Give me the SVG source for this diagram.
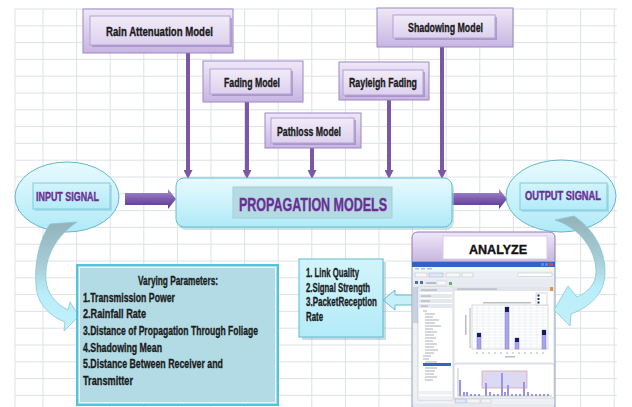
<svg xmlns="http://www.w3.org/2000/svg" width="632" height="407" viewBox="0 0 632 407">
<style>
.t{font-family:"Liberation Sans",Arial,sans-serif;font-weight:bold;}
.lbl{font-size:13px;fill:#1a1a1a;text-anchor:middle;stroke:#1a1a1a;stroke-width:0.35;}
.pur{fill:#6b2f93;text-anchor:middle;stroke:#6b2f93;stroke-width:0.4;}
.vp{font-size:12px;fill:#1a1a1a;stroke:#1a1a1a;stroke-width:0.3;}
.outer{fill:url(#gLav);stroke:#9b87c2;stroke-width:1;}
.inner{fill:url(#gLavIn);stroke:#b3a2d3;stroke-width:1;}
.shad{fill:#8d79b6;opacity:0.55;}
.conn{stroke:#7b57a8;stroke-width:4;fill:none;}
.grid{stroke:#dde2e8;stroke-width:1;fill:none;}
.g{fill:#b9bec6;}
</style>
<defs>
<linearGradient id="gLav" x1="0" y1="0" x2="0" y2="1"><stop offset="0" stop-color="#eee8f7"/><stop offset="1" stop-color="#c8b5e2"/></linearGradient>
<linearGradient id="gLavIn" x1="0" y1="0" x2="0" y2="1"><stop offset="0" stop-color="#f1ecf8"/><stop offset="1" stop-color="#ddd1ee"/></linearGradient>
<linearGradient id="gCy" x1="0" y1="0" x2="0" y2="1"><stop offset="0" stop-color="#e8fafe"/><stop offset="1" stop-color="#b0eaf8"/></linearGradient>
<linearGradient id="gCyL" x1="0" y1="0" x2="0" y2="1"><stop offset="0" stop-color="#d2f4fb"/><stop offset="1" stop-color="#b3ebf8"/></linearGradient>
<linearGradient id="gArr" x1="0" y1="0" x2="0" y2="1"><stop offset="0" stop-color="#a990d3"/><stop offset="0.5" stop-color="#7d5cb0"/><stop offset="1" stop-color="#573688"/></linearGradient>
<linearGradient id="gCurvL" gradientUnits="userSpaceOnUse" x1="0" y1="222" x2="0" y2="332"><stop offset="0" stop-color="#93b3bb"/><stop offset="0.4" stop-color="#a8cdd6"/><stop offset="0.65" stop-color="#b9eef9"/><stop offset="1" stop-color="#c2f1fb"/></linearGradient>
<linearGradient id="gCurvR" gradientUnits="userSpaceOnUse" x1="0" y1="216" x2="0" y2="326"><stop offset="0" stop-color="#93b3bb"/><stop offset="0.4" stop-color="#a8cdd6"/><stop offset="0.65" stop-color="#b9eef9"/><stop offset="1" stop-color="#c2f1fb"/></linearGradient>
<marker id="ah" viewBox="0 0 10 10" refX="0" refY="5" markerWidth="9" markerHeight="9" markerUnits="userSpaceOnUse" orient="auto"><path d="M0,0 L10,5 L0,10 z" fill="#7b57a8"/></marker>
</defs>

<rect width="632" height="407" fill="#ffffff"/>
<path class="grid" d="M15,9V407M43,9V407M76.6,9V407M110.2,9V407M143.8,9V407M177.4,9V407M211,9V407M244.6,9V407M278.2,9V407M311.8,9V407M345.4,9V407M379,9V407M412.6,9V407M446.2,9V407M479.8,9V407M513.4,9V407M547,9V407M580.6,9V407M614.2,9V407M15,9H617M15,25.8H617M15,42.6H617M15,59.4H617M15,76.2H617M15,93H617M15,109.8H617M15,126.6H617M15,143.4H617M15,160.2H617M15,177H617M15,193.8H617M15,210.6H617M15,227.4H617M15,244.2H617M15,261H617M15,277.8H617M15,294.6H617M15,311.4H617M15,328.2H617M15,345H617M15,361.8H617M15,378.6H617M15,395.4H617"/>

<g id="connectors">
<line class="conn" x1="188" y1="53" x2="188" y2="170" marker-end="url(#ah)"/>
<line class="conn" x1="247" y1="102" x2="247" y2="170" marker-end="url(#ah)"/>
<line class="conn" x1="312" y1="148" x2="312" y2="170" marker-end="url(#ah)"/>
<line class="conn" x1="389" y1="100" x2="389" y2="170" marker-end="url(#ah)"/>
<line class="conn" x1="442" y1="47" x2="442" y2="170" marker-end="url(#ah)"/>
<path d="M125,193 L168,193 L168,189 L176,199 L168,209 L168,205 L125,205 Z" fill="url(#gArr)"/>
<path d="M452,193 L499,193 L499,189 L507,199 L499,209 L499,205 L452,205 Z" fill="url(#gArr)"/>
<path d="M413,295 L395,295 L395,290 L383,300 L395,310 L395,305 L413,305 Z" fill="#c6f1fa" stroke="#6ab9cc" stroke-width="1"/>
</g>

<g id="rain">
<rect class="outer" x="83" y="9" width="150" height="44"/>
<rect class="shad" x="92" y="18" width="140" height="29"/>
<rect class="inner" x="90" y="16" width="140" height="29"/>
<text class="t lbl" x="159.5" y="36" textLength="107" lengthAdjust="spacingAndGlyphs">Rain  Attenuation Model</text>
</g>
<g id="fading">
<rect class="outer" x="203" y="61" width="100" height="41"/>
<rect class="shad" x="212" y="71" width="81" height="25"/>
<rect class="inner" x="210" y="69" width="81" height="25"/>
<text class="t lbl" x="252" y="87" textLength="56" lengthAdjust="spacingAndGlyphs">Fading Model</text>
</g>
<g id="pathloss">
<rect class="outer" x="265" y="113" width="96" height="35"/>
<rect class="shad" x="273" y="120" width="83" height="25"/>
<rect class="inner" x="271" y="118" width="83" height="25"/>
<text class="t lbl" x="309" y="136" textLength="64" lengthAdjust="spacingAndGlyphs">Pathloss Model</text>
</g>
<g id="rayleigh">
<rect class="outer" x="339" y="62" width="90" height="38"/>
<rect class="shad" x="345" y="72" width="80" height="25"/>
<rect class="inner" x="343" y="70" width="80" height="25"/>
<text class="t lbl" x="383" y="87" textLength="68" lengthAdjust="spacingAndGlyphs">Rayleigh Fading</text>
</g>
<g id="shadowing">
<rect class="outer" x="377" y="8" width="136" height="39"/>
<rect class="shad" x="395" y="17" width="102" height="23"/>
<rect class="inner" x="393" y="15" width="102" height="23"/>
<text class="t lbl" x="445.5" y="32" textLength="75" lengthAdjust="spacingAndGlyphs">Shadowing Model</text>
</g>

<g id="propagation">
<rect x="178" y="181" width="276" height="49" rx="8" fill="#9fc7d2" opacity="0.5"/>
<rect x="176" y="178" width="276" height="49" rx="8" fill="url(#gCy)" stroke="#62bfd4" stroke-width="1"/>
<rect x="233" y="187" width="159" height="31" fill="#b4dbe3" stroke="#a3cfd9" stroke-width="1"/>
<text class="t pur" x="313" y="211" font-size="19" textLength="148" lengthAdjust="spacingAndGlyphs">PROPAGATION  MODELS</text>
</g>

<g id="input">
<ellipse cx="67" cy="197" rx="52" ry="35" fill="url(#gCy)" stroke="#63b8cc" stroke-width="1"/>
<rect x="35" y="185" width="77" height="26" fill="#8fc6d3" opacity="0.5"/>
<rect x="33" y="183" width="77" height="26" fill="url(#gCyL)" stroke="#7ccbdc" stroke-width="1"/>
<text class="t pur" x="67.5" y="201" font-size="12.5" textLength="63" lengthAdjust="spacingAndGlyphs">INPUT SIGNAL</text>
<path d="M77,222 C56,236 44,258 46,280 C47,294 56,304 68,310 L70,302 L79,316 L64,331 L65,322 C48,315 37,303 36,285 C34,262 40,238 50,224 Z" fill="url(#gCurvL)" stroke="#86c6d5" stroke-width="0.8"/>
</g>

<g id="output">
<ellipse cx="561" cy="196" rx="55" ry="36" fill="url(#gCy)" stroke="#63b8cc" stroke-width="1"/>
<rect x="522" y="185" width="87" height="27" fill="#8fc6d3" opacity="0.5"/>
<rect x="520" y="183" width="87" height="27" fill="url(#gCyL)" stroke="#7ccbdc" stroke-width="1"/>
<text class="t pur" x="563" y="200" font-size="12.5" textLength="76" lengthAdjust="spacingAndGlyphs">OUTPUT SIGNAL</text>
</g>

<g id="varying">
<rect x="77" y="265" width="201" height="140" fill="#b2dbe5" stroke="#55c4d7" stroke-width="2"/>
<rect x="79.5" y="267.5" width="196" height="135" fill="none" stroke="#e3f6fa" stroke-width="1"/>
<text class="t vp" x="178" y="285" text-anchor="middle" textLength="80" lengthAdjust="spacingAndGlyphs">Varying Parameters:</text>
<text class="t vp" x="83" y="302" textLength="92" lengthAdjust="spacingAndGlyphs">1.Transmission Power</text>
<text class="t vp" x="83" y="318" textLength="63" lengthAdjust="spacingAndGlyphs">2.Rainfall Rate</text>
<text class="t vp" x="83" y="335" textLength="175" lengthAdjust="spacingAndGlyphs">3.Distance of Propagation  Through  Foliage</text>
<text class="t vp" x="83" y="352" textLength="79" lengthAdjust="spacingAndGlyphs">4.Shadowing Mean</text>
<text class="t vp" x="83" y="368" textLength="140" lengthAdjust="spacingAndGlyphs">5.Distance Between  Receiver and</text>
<text class="t vp" x="83" y="385" textLength="50" lengthAdjust="spacingAndGlyphs">Transmitter</text>
</g>

<g id="results">
<rect x="302" y="262" width="84" height="78" fill="#8fb8c4" opacity="0.5"/>
<rect x="299" y="259" width="84" height="78" fill="url(#gCyL)" stroke="#63b9cd" stroke-width="1"/>
<text class="t vp" x="306" y="277" textLength="53" lengthAdjust="spacingAndGlyphs">1. Link Quality</text>
<text class="t vp" x="306" y="292" textLength="64" lengthAdjust="spacingAndGlyphs">2.Signal Strength</text>
<text class="t vp" x="306" y="306" textLength="71" lengthAdjust="spacingAndGlyphs">3.PacketReception</text>
<text class="t vp" x="306" y="321" textLength="17" lengthAdjust="spacingAndGlyphs">Rate</text>
</g>

<g id="analyze">
<path d="M412,262 V238 Q412,232 418,232 H549 Q555,232 555,238 V262 Z" fill="url(#gLav)" stroke="#8e78b8" stroke-width="1"/>
<rect x="443" y="236" width="104" height="23" fill="#ffffff" stroke="#d6cce6" stroke-width="1"/>
<text class="t" x="498" y="254" font-size="13" fill="#111" stroke="#111" stroke-width="0.35" text-anchor="middle" textLength="58" lengthAdjust="spacingAndGlyphs">ANALYZE</text>
<rect x="412" y="262" width="143" height="145" fill="#eef0f3" stroke="#8ea2ba" stroke-width="1"/>
<rect x="412" y="262" width="143" height="5" fill="#2f63c8"/>
<rect x="541" y="263" width="3" height="3" fill="#5a86dc"/><rect x="545" y="263" width="3" height="3" fill="#5a86dc"/><rect x="549" y="263" width="4" height="3" fill="#d9483b"/>
<rect x="413" y="267" width="141" height="4" fill="#f6f6f6"/>
<rect x="415" y="268" width="4" height="1.5" class="g"/><rect x="421" y="268" width="4" height="1.5" class="g"/><rect x="427" y="268" width="5" height="1.5" class="g"/>
<rect x="413" y="271" width="141" height="8" fill="#eceff3"/>
<rect x="415" y="273" width="12" height="4" fill="#f8f8f8" stroke="#b8bec8" stroke-width="0.5"/><rect x="429" y="273" width="14" height="4" fill="#dfe8f6" stroke="#9cb0cc" stroke-width="0.5"/><rect x="446" y="273" width="14" height="4" fill="#f8f8f8" stroke="#b8bec8" stroke-width="0.5"/><rect x="462" y="273" width="11" height="4" fill="#f8f8f8" stroke="#b8bec8" stroke-width="0.5"/>
<rect x="518" y="273" width="34" height="3.5" fill="#ffffff" stroke="#b8bec8" stroke-width="0.5"/>
<rect x="413" y="279" width="141" height="8" fill="#e8ebef"/>
<rect x="415" y="281" width="3" height="3" fill="#4a6fa8"/><rect x="420" y="281" width="3" height="3" fill="#4a6fa8"/><rect x="426" y="282" width="10" height="2" class="g"/><rect x="437" y="281" width="9" height="4" fill="#fbfbfb" stroke="#c4c8cf" stroke-width="0.5"/><rect x="449" y="282" width="3" height="3" fill="#6a7"/>
<rect x="413" y="287" width="5" height="36" fill="#c8d2e2"/>
<rect x="418" y="287" width="35" height="113" fill="#ffffff" stroke="#aab2c0" stroke-width="0.5"/>
<rect x="419" y="288" width="33" height="4" fill="#e4e8ee"/><rect x="421" y="289.3" width="16" height="1.5" class="g"/>
<rect x="419" y="294" width="33" height="4" fill="#e4e8ee"/><rect x="421" y="295.3" width="10" height="1.5" class="g"/>
<rect x="419" y="299" width="33" height="4" fill="#e4e8ee"/><rect x="421" y="300.3" width="9" height="1.5" class="g"/>
<rect x="419" y="304" width="33" height="4" fill="#e4e8ee"/><rect x="421" y="305.3" width="7" height="1.5" class="g"/>
<path d="M423,311h4M425,314h10M425,317h8M425,320h14M425,323h10M425,326h16M425,329h8M425,332h12M425,335h9M425,338h11M425,341h8M425,344h12M425,347h9M425,350h13M425,353h9M423,356h8M423,359h6M425,362h12M425,365h14M425,368h12M425,371h10M425,374h9M425,377h12M425,380h8" stroke="#a8aeb8" stroke-width="1"/>
<rect x="423" y="363" width="28" height="3" fill="#3a64c0"/>
<rect x="419" y="391" width="33" height="3.5" fill="#eef0f3"/><rect x="419" y="396" width="33" height="3.5" fill="#eef0f3"/>
<rect x="454" y="287" width="100" height="4" fill="#e2e6ec"/><rect x="457" y="288.3" width="40" height="1.5" class="g"/><rect x="550" y="287" width="3" height="4" fill="#e8963a"/>
<rect x="455" y="291" width="98" height="71" fill="#ffffff"/>
<rect x="483" y="302" width="48" height="1.5" class="g"/>
<rect x="465" y="315" width="1.5" height="20" class="g"/>
<rect x="472" y="305" width="76" height="44" fill="#ffffff" stroke="#b0b4bc" stroke-width="0.5"/>
<path d="M472,308h76M472,311h76M472,314h76M472,317h76M472,320h76M472,323h76M472,326h76M472,329h76M472,332h76M472,335h76M472,338h76M472,341h76M472,344h76M472,347h76M477,305v44M483,305v44M489,305v44M495,305v44M501,305v44M507,305v44M513,305v44M519,305v44M525,305v44M531,305v44M537,305v44M543,305v44" stroke="#e2e4e8" stroke-width="0.5"/>
<path d="M470,308v40M477,352v2M483,352v2M489,352v2M495,352v2M501,352v2M507,352v2M513,352v2M519,352v2M525,352v2M531,352v2M537,352v2M543,352v2" stroke="#9aa0aa" stroke-width="0.8"/>
<rect x="505" y="356" width="10" height="1.5" class="g"/>
<rect x="477" y="333" width="4" height="16" fill="#a9a4ee" stroke="#6c68c8" stroke-width="0.4"/><rect x="477" y="333" width="4" height="4" fill="#151a5c"/>
<rect x="505" y="307" width="4" height="42" fill="#a9a4ee" stroke="#6c68c8" stroke-width="0.4"/><rect x="505" y="307" width="4" height="5" fill="#151a5c"/>
<rect x="515" y="338" width="4" height="11" fill="#a9a4ee" stroke="#6c68c8" stroke-width="0.4"/><rect x="515" y="338" width="4" height="4" fill="#151a5c"/>
<rect x="542" y="330" width="4" height="19" fill="#a9a4ee" stroke="#6c68c8" stroke-width="0.4"/><rect x="542" y="330" width="4" height="5" fill="#151a5c"/>
<rect x="536" y="293" width="11" height="12" fill="#ffffff" stroke="#aab0ba" stroke-width="0.5"/>
<rect x="537.5" y="294.5" width="2" height="2" fill="#1a2a7a"/><rect x="537.5" y="298" width="2" height="2" fill="#1a2a7a"/><rect x="537.5" y="301.5" width="2" height="2" fill="#1a2a7a"/>
<rect x="454" y="364" width="100" height="34" fill="#ffffff" stroke="#b0b4bc" stroke-width="0.5"/>
<rect x="482" y="371" width="45" height="17" fill="#dcd9f2" stroke="#e08a8a" stroke-width="0.6"/>
<path d="M458,368v28h94" stroke="#9aa0aa" stroke-width="0.6" fill="none"/>
<g fill="#9a94e6">
<rect x="459" y="380" width="2" height="16"/><rect x="463" y="392" width="2" height="4"/><rect x="466" y="392" width="2" height="4"/><rect x="470" y="394" width="2" height="2"/><rect x="474" y="394" width="2" height="2"/><rect x="478" y="394" width="2" height="2"/>
<rect x="485" y="383" width="2" height="13"/><rect x="489" y="392" width="2" height="4"/><rect x="493" y="394" width="2" height="2"/><rect x="497" y="394" width="2" height="2"/><rect x="501" y="373" width="2" height="23"/><rect x="504" y="392" width="2" height="4"/><rect x="507" y="385" width="2" height="11"/><rect x="511" y="394" width="2" height="2"/><rect x="515" y="394" width="2" height="2"/><rect x="519" y="394" width="2" height="2"/><rect x="523" y="382" width="2" height="14"/><rect x="527" y="392" width="2" height="4"/><rect x="531" y="394" width="2" height="2"/><rect x="535" y="394" width="2" height="2"/><rect x="539" y="394" width="2" height="2"/><rect x="543" y="394" width="2" height="2"/><rect x="547" y="394" width="2" height="2"/>
</g>
<rect x="455" y="399" width="11" height="4" fill="#dfe8f6" stroke="#9cb0cc" stroke-width="0.5"/><rect x="467" y="399" width="13" height="4" fill="#f4f4f4" stroke="#b8bec8" stroke-width="0.5"/><rect x="481" y="399" width="10" height="4" fill="#f4f4f4" stroke="#b8bec8" stroke-width="0.5"/>
<rect x="413" y="404" width="141" height="3" fill="#e6e9ee"/>
<path d="M555,220 C580,228 596,250 596,272 C596,284 588,292 577,297 L568,286 L554,310 L570,326 L571,314 C592,306 605,292 605,272 C605,248 592,228 574,216 Z" fill="url(#gCurvR)" stroke="#86c6d5" stroke-width="0.8"/>
</g>
</svg>
